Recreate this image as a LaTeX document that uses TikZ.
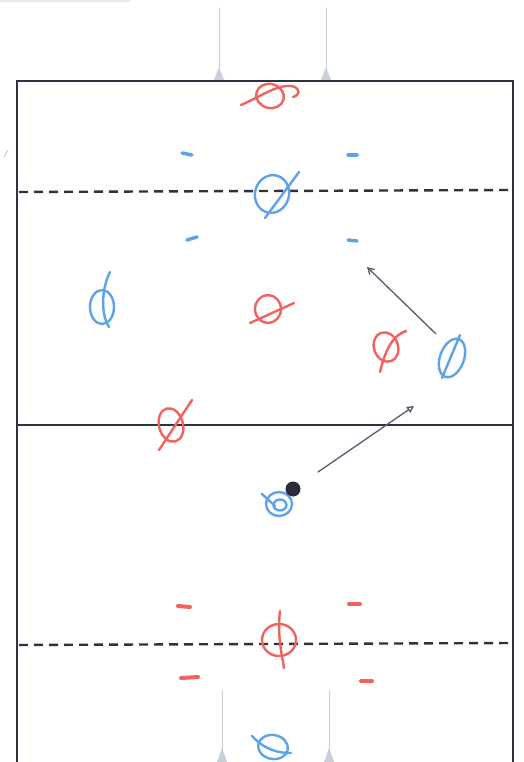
\documentclass[tikz,border=0pt]{standalone}
\usetikzlibrary{shapes.geometric,arrows.meta,calc}
\definecolor{fieldline}{HTML}{2E3140}
\definecolor{redp}{HTML}{F2625E}
\definecolor{bluep}{HTML}{5EA3EA}
\definecolor{goalc}{HTML}{C9CFD8}
\definecolor{arrowc}{HTML}{5C5870}
\begin{document}
\begin{tikzpicture}[x=1pt,y=-1pt,
  redplayer/.style={ellipse,draw=redp,line width=2.4pt,inner sep=0pt},
  blueplayer/.style={ellipse,draw=bluep,line width=2.4pt,inner sep=0pt},
  redstroke/.style={draw=redp,line width=2.4pt,line cap=round},
  bluestroke/.style={draw=bluep,line width=2.4pt,line cap=round},
  redtick/.style={draw=redp,line width=4pt,line cap=round},
  bluetick/.style={draw=bluep,line width=3.5pt,line cap=round},
  border/.style={draw=fieldline,line width=2.4pt},
  dashline/.style={draw=fieldline,line width=2.4pt,dash pattern=on 9pt off 6pt},
  goalpost/.style={draw=goalc,line width=0.9pt},
  goaltip/.style={fill=goalc,draw=none},
  move/.style={draw=arrowc,line width=1.3pt,line cap=round}
]
\useasboundingbox (0,0) rectangle (524,762);
\fill[white] (0,0) rectangle (524,762);
% faint scan artefact
\draw[draw=goalc!45,line width=1.2pt] (0,1) -- (130,1);
\draw[draw=gray!50,line width=0.8pt] (4,157) -- (8,150);

% goal posts top
\draw[goalpost] (219,8) -- (219,76);
\draw[goalpost] (326,8) -- (326,76);
\fill[goaltip] (214,80) -- (219,67) -- (224,80) -- cycle;
\fill[goaltip] (321,80) -- (326,67) -- (331,80) -- cycle;
% goal posts bottom
\draw[goalpost] (222,690) -- (222,762);
\draw[goalpost] (329,690) -- (329,762);
\fill[goaltip] (217,762) -- (222,748) -- (227,762) -- cycle;
\fill[goaltip] (324,762) -- (329,748) -- (334,762) -- cycle;

% field
\draw[border] (17,763) -- (17,81) -- (513,81) -- (513,763);
\draw[border] (17,425) -- (513,425);
\draw[dashline] (19,192) -- (511,190);
\draw[dashline] (19,645) -- (511,643);

% blue ticks
\draw[bluetick] (182,153) -- (192,155);
\draw[bluetick] (348,155) -- (357,155);
\draw[bluetick] (187,240) -- (197,237);
\draw[bluetick] (348,240) -- (357,241);
% red ticks
\draw[redtick] (178,606) -- (190,607);
\draw[redtick] (349,604) -- (360,604);
\draw[redtick] (181,678) -- (198,677);
\draw[redtick] (361,681) -- (372,681);

% red players
\node[redplayer,minimum width=28pt,minimum height=24pt,rotate=-15] (r1) at (270,96) {};
\draw[redstroke] (241,105) .. controls (262,96) and (280,82) .. (295,87) .. controls (300,90) and (300,95) .. (293,97);
\node[redplayer,minimum width=26pt,minimum height=28pt] (r2) at (268,309) {};
\draw[redstroke] ($(r2)+(-18,14)$) -- ($(r2)+(26,-6)$);
\node[redplayer,minimum width=24pt,minimum height=30pt,rotate=20] (r3) at (386,347) {};
\draw[redstroke] ($(r3)+(-6,25)$) .. controls ($(r3)+(0,0)$) and ($(r3)+(8,-12)$) .. ($(r3)+(20,-16)$);
\node[redplayer,minimum width=24pt,minimum height=34pt,rotate=15] (r4) at (171,425) {};
\draw[redstroke] ($(r4)+(-12,25)$) -- ($(r4)+(21,-25)$);
\node[redplayer,minimum width=34pt,minimum height=32pt] (r5) at (279,640) {};
\draw[redstroke] ($(r5)+(1,-29)$) .. controls ($(r5)+(-2,-5)$) and ($(r5)+(3,15)$) .. ($(r5)+(5,28)$);

% blue players
\node[blueplayer,minimum width=34pt,minimum height=38pt,rotate=-15] (b1) at (272,194) {};
\draw[bluestroke] ($(b1)+(-7,24)$) -- ($(b1)+(27,-22)$);
\node[blueplayer,minimum width=24pt,minimum height=34pt] (b2) at (102,307) {};
\draw[bluestroke] ($(b2)+(8,-35)$) .. controls ($(b2)+(-2,-15)$) and ($(b2)+(0,10)$) .. ($(b2)+(7,20)$);
\node[blueplayer,minimum width=24pt,minimum height=40pt,rotate=-20] (b3) at (452,358) {};
\draw[bluestroke] ($(b3)+(-10,20)$) -- ($(b3)+(8,-23)$);
\node[blueplayer,minimum width=26pt,minimum height=24pt] (b4) at (279,504) {};
\node[blueplayer,minimum width=13pt,minimum height=11pt] (b4i) at (280,505) {};
\draw[bluestroke] ($(b4)+(-17,-10)$) -- ($(b4)+(-4,2)$);
\node[circle,fill=fieldline!90!black,minimum size=15pt,inner sep=0pt] (ball) at (293,489) {};
\node[blueplayer,minimum width=30pt,minimum height=24pt,rotate=-10] (b5) at (273,747) {};
\draw[bluestroke] ($(b5)+(-21,-11)$) .. controls ($(b5)+(-8,3)$) and ($(b5)+(5,6)$) .. ($(b5)+(18,6)$);

% movement arrows
\coordinate (a1s) at (436,334);
\coordinate (a1e) at (367,267);
\coordinate (a2s) at (318,472);
\coordinate (a2e) at (414,406);
\draw[move,-{Straight Barb[length=6pt,width=7pt]}] (a1s) -- (a1e);
\draw[move,-{Triangle[open,length=7pt,width=7pt]}] (a2s) -- (a2e);
\end{tikzpicture}
\end{document}
